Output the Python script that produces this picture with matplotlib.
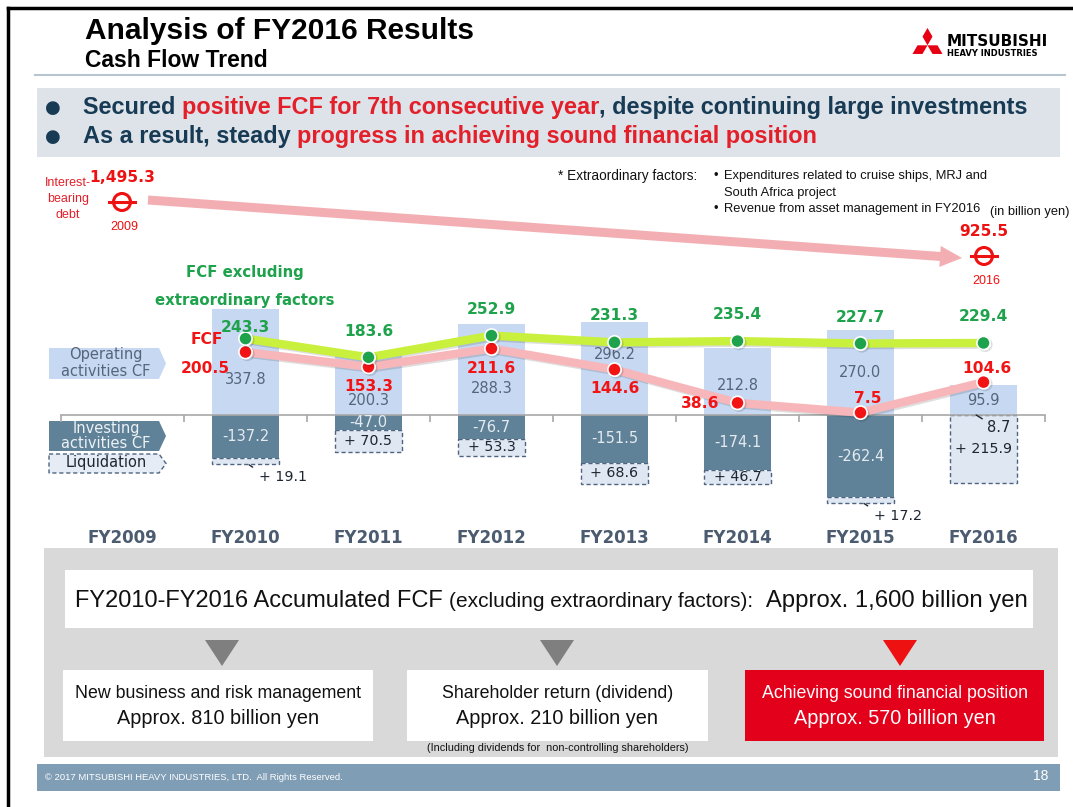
import numpy as np
import matplotlib
matplotlib.use("Agg")
import matplotlib.pyplot as plt
from matplotlib.patches import Rectangle, Polygon, Circle
import matplotlib.patheffects as pe

# data
categories = ['FY2009', 'FY2010', 'FY2011', 'FY2012', 'FY2013', 'FY2014', 'FY2015', 'FY2016']
operating_cf = [337.8, 200.3, 288.3, 296.2, 212.8, 270.0, 95.9]
investing_cf = [-137.2, -47.0, -76.7, -151.5, -174.1, -262.4, 8.7]
liquidation = [19.1, 70.5, 53.3, 68.6, 46.7, 17.2, 215.9]
fcf = [200.5, 153.3, 211.6, 144.6, 38.6, 7.5, 104.6]
fcf_excl = [243.3, 183.6, 252.9, 231.3, 235.4, 227.7, 229.4]
debt_years = ['2009', '2016']
debt = [1495.3, 925.5]
alloc_titles = ['New business and risk management', 'Shareholder return (dividend)',
                'Achieving sound financial position']
alloc_amounts = [810, 210, 570]
total_fcf = 1600

# label offsets (pixels), layout only
green_dy = [11, 26, 26, 27, 27, 26, 26]
red_off = [(-40, -16), (0, -20), (0, -20), (0, -19), (-37, -1), (7, 14), (3, 14)]
op_lab_up = [35, 14, 26, 60, 29, 42, 14]

NAVY = '#173b54'
RED = '#e3202a'
C_OP = '#c6d8f2'
C_INV = '#5f8298'
C_LIQ = '#dfe7f3'
C_LIQ_EDGE = '#4f6480'
C_GRAYTXT = '#56657a'
C_GREEN = '#1ea24b'
C_LIME = '#c8f03c'
C_PINK = '#f7b6ba'
C_REDPT = '#f21414'
ARIAL = ['Liberation Sans', 'DejaVu Sans']
VERD = ['DejaVu Sans']

fig = plt.figure(figsize=(10.73, 8.07), dpi=100)
bg = fig.add_axes([0, 0, 1, 1])
bg.set_xlim(0, 1073)
bg.set_ylim(807, 0)
bg.axis('off')
renderer = fig.canvas.get_renderer()


def text_w(s, **kw):
    t = bg.text(0, 0, s, **kw)
    w = t.get_window_extent(renderer=renderer).width
    t.remove()
    return w


def runs(x, y, parts, **kw):
    # draws pieces of text with different colours / sizes one after another
    for s, extra in parts:
        opts = dict(kw)
        opts.update(extra)
        bg.text(x, y, s, va='baseline', ha='left', **opts)
        x += text_w(s + '|', **opts) - text_w('|', **opts)
    return x


# frame
bg.plot([8, 8], [8, 807], color='black', lw=2.5)
bg.plot([8, 1073], [8, 8], color='black', lw=2.5)

# title
bg.text(85, 39, 'Analysis of FY2016 Results', fontsize=21.5, fontweight='bold',
        family=ARIAL, va='baseline')
bg.text(85, 67, 'Cash Flow Trend', fontsize=16.5, fontweight='bold', family=ARIAL, va='baseline')
bg.plot([35, 1065], [75, 75], color='#b7c5d1', lw=1.5)

# logo
cx, cy, a = 927.5, 45.3, 10.0
for th in (90, 210, 330):
    pts = []
    for ang, r in ((0, 0), (th - 30, a), (th, a * np.sqrt(3)), (th + 30, a)):
        pts.append((cx + r * np.cos(np.radians(ang)), cy - r * np.sin(np.radians(ang))))
    bg.add_patch(Polygon(pts, closed=True, color='#e60012', lw=0))
bg.text(947, 46, 'MITSUBISHI', fontsize=11, fontweight='heavy', family=VERD, va='baseline')
bg.text(947, 56, 'HEAVY INDUSTRIES', fontsize=6, fontweight='bold', family=VERD, va='baseline')

# bullet band
bg.add_patch(Rectangle((37, 88), 1023, 69, color='#dee3ea', lw=0))
for yb in (114, 143):
    bg.text(53, yb - 1, '●', fontsize=13, color=NAVY, family=VERD, ha='center', va='baseline')
bkw = dict(fontsize=16.9, fontweight='bold', family=ARIAL)
runs(83, 114, [('Secured ', {'color': NAVY}),
               ('positive FCF for 7th consecutive year', {'color': RED}),
               (', despite continuing large investments', {'color': NAVY})], **bkw)
runs(83, 143, [('As a result, steady ', {'color': NAVY}),
               ('progress in achieving sound financial position', {'color': RED})], **bkw)

# interest-bearing debt
for s, yy in (('Interest-', 183), ('bearing', 199), ('debt', 215)):
    bg.text(68, yy, s, fontsize=9, color=RED, family=ARIAL, ha='center', va='center')
debt_x = [122, 984]
debt_y = [202, 256]
for xx, yy, yr, v in zip(debt_x, debt_y, debt_years, debt):
    bg.add_patch(Circle((xx, yy), 8.5, fill=False, ec='#ee1111', lw=2.2))
    bg.plot([xx - 13, xx + 13], [yy, yy], color='#ee1111', lw=2.2)
    bg.text(xx, yy - 24, f'{v:,.1f}', fontsize=11.2, fontweight='bold', color='#ee1111',
            family=VERD, ha='center', va='center')
    bg.text(xx + 2, yy + 25, yr, fontsize=9, color='#ee1111', family=ARIAL, ha='center', va='center')
# arrow
p0 = np.array([148.0, 200.0])
p1 = np.array([962.0, 258.0])
d = (p1 - p0) / np.linalg.norm(p1 - p0)
nrm = np.array([-d[1], d[0]])
hb = p1 - d * 22
arrow = [p0 + nrm * 4.5, hb + nrm * 4.5, hb + nrm * 10.5, p1, hb - nrm * 10.5, hb - nrm * 4.5,
         p0 - nrm * 4.5]
bg.add_patch(Polygon(arrow, closed=True, color='#f2aeb2', lw=0))

# footnote
fkw = dict(fontsize=9.3, family=ARIAL, color='#111111', va='center')
bg.text(558, 176, '* Extraordinary factors:', fontsize=9.8, family=ARIAL, color='#111111',
        va='center')
bg.text(713, 176, '•', **fkw)
bg.text(724, 176, 'Expenditures related to cruise ships, MRJ and', **fkw)
bg.text(724, 193, 'South Africa project', **fkw)
bg.text(713, 209, '•', **fkw)
bg.text(724, 209, 'Revenue from asset management in FY2016', **fkw)
bg.text(1070, 212, '(in billion yen)', fontsize=9.3, family=ARIAL, color='#111111',
        va='center', ha='right')

# green title
bg.text(245, 273, 'FCF excluding', fontsize=10.7, fontweight='bold', color=C_GREEN,
        family=VERD, ha='center', va='center')
bg.text(245, 301, 'extraordinary factors', fontsize=10.7, fontweight='bold', color=C_GREEN,
        family=VERD, ha='center', va='center')

# left row labels
def pent(y0, y1, **kw):
    ym = (y0 + y1) / 2
    return Polygon([(49, y0), (159, y0), (166, ym), (159, y1), (49, y1)], closed=True, **kw)


bg.add_patch(pent(348, 379, color=C_OP, lw=0))
bg.add_patch(pent(421, 451, color=C_INV, lw=0))
bg.add_patch(pent(454, 473, facecolor='#e6ecf5', edgecolor=C_LIQ_EDGE, lw=1,
                  linestyle=(0, (3, 2))))
lkw = dict(fontsize=10.5, family=VERD, ha='center', va='center')
bg.text(106, 355, 'Operating', color=C_GRAYTXT, **lkw)
bg.text(106, 371, 'activities CF', color=C_GRAYTXT, **lkw)
bg.text(106, 428, 'Investing', color='#eef2f6', **lkw)
bg.text(106, 443, 'activities CF', color='#eef2f6', **lkw)
bg.text(106, 463, 'Liquidation', color='#1d2631', **lkw)

# chart axes: 0.314 px per billion yen, zero line at y=415 px
ax = fig.add_axes([61 / 1073, 1 - 518.6 / 807, 984 / 1073, 244.9 / 807])
ax.set_xlim(-0.5, 7.5)
ax.set_ylim(-330, 450)
ax.patch.set_alpha(0)
for s in ('top', 'right', 'left'):
    ax.spines[s].set_visible(False)
ax.spines['bottom'].set_position(('data', 0))
ax.spines['bottom'].set_color('#a8a8a8')
ax.spines['bottom'].set_linewidth(1.2)
ax.set_yticks([])
ax.set_xticks(range(len(categories)))
ax.set_xticklabels(categories, fontsize=12, fontweight='bold', color='#4b5b70', family=VERD)
ax.set_xticks(np.arange(-0.5, len(categories)), minor=True)
ax.tick_params(axis='x', which='major', length=0, pad=82)
ax.tick_params(axis='x', which='minor', length=5, width=1.2, color='#a8a8a8', direction='out')

x = np.arange(1, len(categories))
w = 0.545
inv = np.array(investing_cf)
inv_neg = np.minimum(inv, 0)
liq = np.array(liquidation)
ax.bar(x, operating_cf, width=w, color=C_OP, zorder=2)
ax.bar(x, inv_neg, width=w, color=C_INV, zorder=2)
ax.bar(x, -liq, bottom=inv_neg, width=w, facecolor=C_LIQ, edgecolor=C_LIQ_EDGE, lw=1,
       linestyle=(0, (3, 2)), zorder=1.5)

shadow = [pe.SimpleLineShadow(offset=(1.2, -1.2), alpha=0.13), pe.Normal()]
ax.plot(x, fcf, color=C_PINK, lw=6, marker='o', ms=9.5, mfc=C_REDPT, mec='white', mew=1.2,
        zorder=4, path_effects=shadow)
ax.plot(x, fcf_excl, color=C_LIME, lw=6, marker='o', ms=9.5, mfc=C_GREEN, mec='white', mew=1.2,
        zorder=5, path_effects=shadow)

# "FCF" tag sits on top of the FY2010 bar
ax.text(207, 340, 'FCF', fontsize=11.2, fontweight='bold', color=C_REDPT, family=VERD,
        ha='center', va='center', transform=bg.transData, clip_on=False, zorder=6)

gkw = dict(textcoords='offset pixels', ha='center', va='center', family=VERD)
for i in range(len(x)):
    ax.annotate(f'{fcf_excl[i]:.1f}', (x[i], fcf_excl[i]), xytext=(0, green_dy[i]),
                fontsize=11.2, fontweight='bold', color=C_GREEN, zorder=6, **gkw)
    ax.annotate(f'{fcf[i]:.1f}', (x[i], fcf[i]), xytext=red_off[i],
                fontsize=11.2, fontweight='bold', color=C_REDPT, zorder=6, **gkw)
    ax.annotate(f'{operating_cf[i]:.1f}', (x[i], 0), xytext=(0, op_lab_up[i]),
                fontsize=10.5, color=C_GRAYTXT, zorder=3, **gkw)
    if inv[i] < 0:
        ax.text(x[i], inv[i] / 2, f'{inv[i]:.1f}', fontsize=10.5, color='#e4eaf0',
                ha='center', va='center', family=VERD, zorder=3)
    else:
        ax.annotate(f'{inv[i]:.1f}', (x[i] - 0.06, 0), xytext=(23, -13), fontsize=10.5,
                    color='#1d2631', zorder=3,
                    arrowprops=dict(arrowstyle='-', color='#1d2631', lw=1, shrinkA=2, shrinkB=0,
                                    relpos=(0.1, 0.8)), **gkw)
    bottom = inv_neg[i] - liq[i]
    if liq[i] > 30:
        ax.text(x[i], inv_neg[i] - liq[i] / 2, f'+ {liq[i]:.1f}', fontsize=10.3,
                color='#1d2631', ha='center', va='center', family=VERD, zorder=3)
    else:
        ax.annotate(f'+ {liq[i]:.1f}', (x[i] + 0.02, bottom), xytext=(35, -13), fontsize=10.3,
                    color='#1d2631', zorder=3,
                    arrowprops=dict(arrowstyle='-', color='#1d2631', lw=1, shrinkA=3, shrinkB=1,
                                    relpos=(0.05, 0.8)), **gkw)

# bottom panel
bg.add_patch(Rectangle((44, 548), 1014, 209, color='#d9d9d9', lw=0))
bg.add_patch(Rectangle((65, 570), 968, 58, color='white', lw=0))
runs(75, 607, [('FY2010-FY2016 Accumulated FCF ', {'fontsize': 17}),
               ('(excluding extraordinary factors):', {'fontsize': 15}),
               (f'  Approx. {total_fcf:,} billion yen', {'fontsize': 17.2})],
     family=ARIAL, color='#111111')
box_x = [63, 407, 745]
box_w = [310, 301, 299]
tri_x = [222, 557, 900]
for k in range(3):
    fc = '#e2001a' if k == 2 else 'white'
    tc = 'white' if k == 2 else '#111111'
    tcol = '#ee1111' if k == 2 else '#7f7f7f'
    bg.add_patch(Rectangle((box_x[k], 670), box_w[k], 71, color=fc, lw=0))
    bg.add_patch(Polygon([(tri_x[k] - 17, 640), (tri_x[k] + 17, 640), (tri_x[k], 666)],
                         closed=True, color=tcol, lw=0))
    cxk = box_x[k] + box_w[k] / 2
    bg.text(cxk, 694, alloc_titles[k], fontsize=12.8, color=tc, family=ARIAL,
            ha='center', va='center')
    bg.text(cxk, 718, f'Approx. {alloc_amounts[k]} billion yen', fontsize=14.3, color=tc,
            family=ARIAL, ha='center', va='center')
bg.text(558, 748, '(Including dividends for  non-controlling shareholders)', fontsize=7.8,
        color='#111111', family=ARIAL, ha='center', va='center')

# footer
bg.add_patch(Rectangle((37, 764), 1023, 27, color='#7f9db5', lw=0))
bg.text(45, 777, '\u00a9 2017 MITSUBISHI HEAVY INDUSTRIES, LTD.  All Rights Reserved.',
        fontsize=6.8, color='white', family=ARIAL, va='center')
bg.text(1048, 776, '18', fontsize=10, color='white', family=ARIAL, va='center', ha='right')

fig.savefig('out.png', dpi=100)
